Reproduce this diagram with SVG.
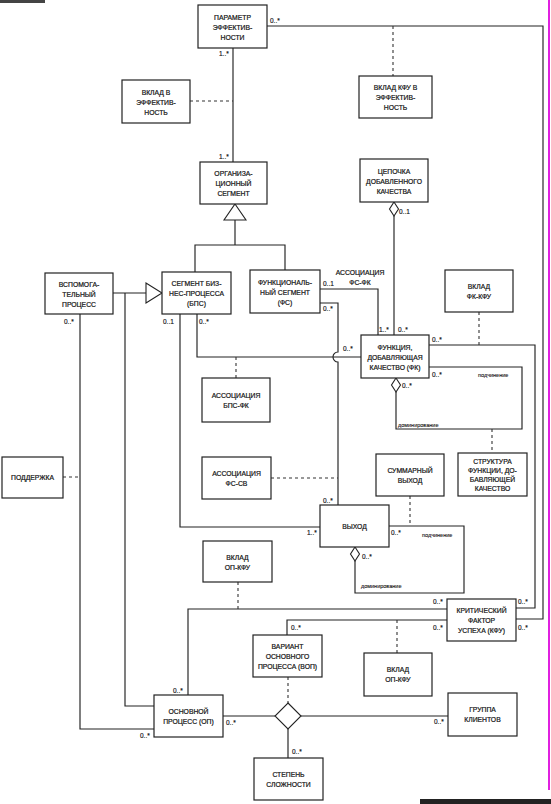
<svg xmlns="http://www.w3.org/2000/svg" width="551" height="804" viewBox="0 0 551 804">
<style>
.box{fill:#fff;stroke:#222;stroke-width:1.2}
.t{font-family:"Liberation Sans",Arial,sans-serif;font-size:6.8px;fill:#111;text-anchor:middle;stroke:#111;stroke-width:0.2}
.m{font-family:"Liberation Sans",Arial,sans-serif;font-size:6.5px;fill:#111;stroke:#111;stroke-width:0.15}
.s{font-family:"Liberation Sans",Arial,sans-serif;font-size:5.5px;fill:#111;stroke:#111;stroke-width:0.1}
.ln{fill:none;stroke:#222;stroke-width:1.15}
.ds{fill:none;stroke:#333;stroke-width:1.1;stroke-dasharray:3,3}
.tri{fill:#fff;stroke:#222;stroke-width:1.1}
.dia{fill:#fff;stroke:#222;stroke-width:1.1}
</style>
<rect width="551" height="804" fill="#fff"/>
<g id="scan-edges">
<rect x="0" y="0" width="45" height="3" fill="#444"/>
<line x1="549" y1="0" x2="549" y2="790" stroke="#e020e0" stroke-width="2"/>
<rect x="420" y="799" width="131" height="5" fill="#222"/>
</g>
<g id="connectors">
<path class="ln" d="M233,48 V162"/>
<path class="ds" d="M190,101 H233"/>
<path class="ln" d="M267,26 H543 V619 H516"/>
<path class="ds" d="M393,26 V76"/>
<path class="ln" d="M235,220 V245 M195,272 V245 H285 V270"/>
<polygon class="tri" points="235,204 246,220 224,220"/>
<path class="ln" d="M113,293 H146"/>
<polygon class="tri" points="146,283 146,303 162,293"/>
<path class="ln" d="M125,293 V706 H154"/>
<path class="ln" d="M80,314 V729 H154"/>
<path class="ds" d="M63,477 H80"/>
<path class="ln" d="M394,216 V335"/>
<polygon class="dia" points="394,202 398.5,209 394,216 389.5,209"/>
<path class="ln" d="M320,289 H378 V335"/>
<path class="ln" d="M320,303 H338 V352 A5,5 0 0 0 338,362 V505"/>
<path class="ln" d="M197,314 V357 H361"/>
<path class="ds" d="M236,357 V378"/>
<path class="ln" d="M180,314 V527 H320"/>
<path class="ds" d="M271,478 H338"/>
<path class="ln" d="M429,345 H535 V608 H516"/>
<path class="ds" d="M479,312 V345"/>
<path class="ln" d="M429,367 H522 V429 H396 V392"/>
<polygon class="dia" points="396,378 400.5,385 396,392 391.5,385"/>
<path class="ds" d="M492,429 V453"/>
<path class="ln" d="M389,526 H464 V593 H355 V561"/>
<polygon class="dia" points="355,547 359.5,554 355,561 350.5,554"/>
<path class="ds" d="M410,496 V526"/>
<path class="ln" d="M188,695 V609 H447"/>
<path class="ds" d="M238,582 V609"/>
<path class="ln" d="M447,620 H287 V635"/>
<path class="ds" d="M397,620 V653"/>
<path class="ln" d="M223,716 H275 M301,716 H448 M288,729 V758"/>
<path class="ds" d="M288,677 V703"/>
<polygon class="dia" points="288,703 301,716 288,729 275,716"/>
</g>
<g id="labels">
<text class="m" x="270" y="23">0..*</text>
<text class="m" x="219" y="56">1..*</text>
<text class="m" x="219" y="159">1..*</text>
<text class="m" x="399" y="214">0..1</text>
<text class="m" x="64" y="324">0..*</text>
<text class="m" x="163" y="324">0..1</text>
<text class="m" x="199" y="324">0..*</text>
<text class="m" x="323" y="286">0..1</text>
<text class="m" x="323" y="311">0..*</text>
<text class="t" x="360" y="275">АССОЦИАЦИЯ</text>
<text class="t" x="360" y="285">ФС-ФК</text>
<text class="m" x="379" y="332">1..*</text>
<text class="m" x="398" y="332">0..*</text>
<text class="m" x="343" y="351">0..*</text>
<text class="m" x="432" y="342">0..*</text>
<text class="m" x="432" y="377">0..*</text>
<text class="s" x="478" y="377">подчинение</text>
<text class="m" x="402" y="388">0..*</text>
<text class="s" x="398" y="427">доминирование</text>
<text class="m" x="323" y="503">0..*</text>
<text class="m" x="307" y="535">1..*</text>
<text class="m" x="391" y="535">0..*</text>
<text class="s" x="422" y="537">подчинение</text>
<text class="m" x="362" y="559">0..*</text>
<text class="s" x="361" y="588">доминирование</text>
<text class="m" x="433" y="604">0..*</text>
<text class="m" x="433" y="630">0..*</text>
<text class="m" x="518" y="604">0..*</text>
<text class="m" x="518" y="630">0..*</text>
<text class="m" x="291" y="630">0..*</text>
<text class="m" x="173" y="693">0..*</text>
<text class="m" x="226" y="725">0..*</text>
<text class="m" x="140" y="738">0..*</text>
<text class="m" x="434" y="724">0..*</text>
<text class="m" x="292" y="754">0..*</text>
</g>
<g id="param"><rect class="box" x="198" y="5" width="69" height="43"/><text class="t" x="232.5" y="19.5">ПАРАМЕТР</text><text class="t" x="232.5" y="29.5">ЭФФЕКТИВ-</text><text class="t" x="232.5" y="39.5">НОСТИ</text></g>
<g id="vklad-eff"><rect class="box" x="122" y="80" width="68" height="43"/><text class="t" x="156" y="94.5">ВКЛАД В</text><text class="t" x="156" y="104.5">ЭФФЕКТИВ-</text><text class="t" x="156" y="114.5">НОСТЬ</text></g>
<g id="vklad-kfu-eff"><rect class="box" x="359" y="76" width="73" height="42"/><text class="t" x="395.5" y="90">ВКЛАД КФУ В</text><text class="t" x="395.5" y="100">ЭФФЕКТИВ-</text><text class="t" x="395.5" y="110">НОСТЬ</text></g>
<g id="org"><rect class="box" x="200" y="162" width="67" height="42"/><text class="t" x="233.5" y="176">ОРГАНИЗА-</text><text class="t" x="233.5" y="186">ЦИОННЫЙ</text><text class="t" x="233.5" y="196">СЕГМЕНТ</text></g>
<g id="chain"><rect class="box" x="360" y="159" width="68" height="43"/><text class="t" x="394" y="173.5">ЦЕПОЧКА</text><text class="t" x="394" y="183.5">ДОБАВЛЕННОГО</text><text class="t" x="394" y="193.5">КАЧЕСТВА</text></g>
<g id="vspom"><rect class="box" x="45" y="273" width="68" height="41"/><text class="t" x="79" y="286.5">ВСПОМОГА-</text><text class="t" x="79" y="296.5">ТЕЛЬНЫЙ</text><text class="t" x="79" y="306.5">ПРОЦЕСС</text></g>
<g id="bps"><rect class="box" x="162" y="272" width="69" height="42"/><text class="t" x="196.5" y="286">СЕГМЕНТ БИЗ-</text><text class="t" x="196.5" y="296">НЕС-ПРОЦЕССА</text><text class="t" x="196.5" y="306">(БПС)</text></g>
<g id="fs"><rect class="box" x="250" y="270" width="70" height="43"/><text class="t" x="285" y="284.5">ФУНКЦИОНАЛЬ-</text><text class="t" x="285" y="294.5">НЫЙ СЕГМЕНТ</text><text class="t" x="285" y="304.5">(ФС)</text></g>
<g id="vklad-fk-kfu"><rect class="box" x="445" y="270" width="68" height="42"/><text class="t" x="479" y="289">ВКЛАД</text><text class="t" x="479" y="299">ФК-КФУ</text></g>
<g id="fk"><rect class="box" x="361" y="335" width="68" height="43"/><text class="t" x="395" y="349.5">ФУНКЦИЯ,</text><text class="t" x="395" y="359.5">ДОБАВЛЯЮЩАЯ</text><text class="t" x="395" y="369.5">КАЧЕСТВО (ФК)</text></g>
<g id="assoc-bps-fk"><rect class="box" x="202" y="378" width="68" height="44"/><text class="t" x="236" y="397.5">АССОЦИАЦИЯ</text><text class="t" x="236" y="407.5">БПС-ФК</text></g>
<g id="podderzhka"><rect class="box" x="2" y="457" width="61" height="41"/><text class="t" x="32.5" y="480">ПОДДЕРЖКА</text></g>
<g id="assoc-fs-sv"><rect class="box" x="202" y="457" width="69" height="42"/><text class="t" x="236.5" y="476">АССОЦИАЦИЯ</text><text class="t" x="236.5" y="486">ФС-СВ</text></g>
<g id="summ"><rect class="box" x="376" y="454" width="68" height="42"/><text class="t" x="410" y="473">СУММАРНЫЙ</text><text class="t" x="410" y="483">ВЫХОД</text></g>
<g id="struct"><rect class="box" x="458" y="453" width="69" height="43"/><text class="t" x="492.5" y="463.5">СТРУКТУРА</text><text class="t" x="492.5" y="472.5">ФУНКЦИИ, ДО-</text><text class="t" x="492.5" y="481.5">БАВЛЯЮЩЕЙ</text><text class="t" x="492.5" y="490.5">КАЧЕСТВО</text></g>
<g id="vyhod"><rect class="box" x="320" y="505" width="69" height="42"/><text class="t" x="354.5" y="528.5">ВЫХОД</text></g>
<g id="vklad-op-kfu-1"><rect class="box" x="203" y="541" width="69" height="41"/><text class="t" x="237.5" y="559.5">ВКЛАД</text><text class="t" x="237.5" y="569.5">ОП-КФУ</text></g>
<g id="kfu"><rect class="box" x="447" y="599" width="69" height="42"/><text class="t" x="481.5" y="613">КРИТИЧЕСКИЙ</text><text class="t" x="481.5" y="623">ФАКТОР</text><text class="t" x="481.5" y="633">УСПЕХА (КФУ)</text></g>
<g id="vop"><rect class="box" x="253" y="635" width="69" height="42"/><text class="t" x="287.5" y="649">ВАРИАНТ</text><text class="t" x="287.5" y="659">ОСНОВНОГО</text><text class="t" x="287.5" y="669">ПРОЦЕССА (ВОП)</text></g>
<g id="vklad-op-kfu-2"><rect class="box" x="364" y="653" width="68" height="43"/><text class="t" x="398" y="672">ВКЛАД</text><text class="t" x="398" y="682">ОП-КФУ</text></g>
<g id="op"><rect class="box" x="154" y="695" width="69" height="42"/><text class="t" x="188.5" y="714">ОСНОВНОЙ</text><text class="t" x="188.5" y="724">ПРОЦЕСС (ОП)</text></g>
<g id="gruppa"><rect class="box" x="448" y="693" width="69" height="43"/><text class="t" x="482.5" y="712">ГРУППА</text><text class="t" x="482.5" y="722">КЛИЕНТОВ</text></g>
<g id="stepen"><rect class="box" x="254" y="758" width="69" height="42"/><text class="t" x="288.5" y="777">СТЕПЕНЬ</text><text class="t" x="288.5" y="787">СЛОЖНОСТИ</text></g>
</svg>
